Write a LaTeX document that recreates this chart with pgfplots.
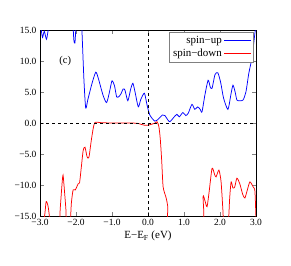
\documentclass[border=0pt]{standalone}
\usepackage{pgfplots}
\pgfplotsset{compat=1.18}
\usepackage{fontspec}
\setmainfont{Liberation Serif}
\begin{document}
\begin{tikzpicture}
\useasboundingbox (-40bp,-50bp) rectangle (251bp,216bp);
\begin{axis}[
  scale only axis, width=216bp, height=186bp,
  xmin=-3, xmax=3, ymin=-15, ymax=15,
  xtick={-3,-2,-1,0,1,2,3},
  xticklabels={−3.0,−2.0,−1.0,0.0,1.0,2.0,3.0},
  ytick={-15,-10,-5,0,5,10,15},
  yticklabels={−15.0,−10.0,−5.0,0.0,5.0,10.0,15.0},
  tick align=inside, major tick length=3.5bp,
  tick label style={font=\fontsize{9.5}{10}\selectfont},
  axis line style={line width=0.9pt},
  xlabel={E−E\textsubscript{F} (eV)},
  xlabel style={font=\fontsize{11}{12}\selectfont, yshift=2bp},
  legend style={at={(rel axis cs:0.99,0.99)}, anchor=north east, draw=gray,
    font=\fontsize{11}{11}\selectfont, inner sep=2pt, row sep=0pt},
  legend cell align=right, legend plot pos=right,
  legend image code/.code={\draw[#1] (0cm,0cm) -- (0.95cm,0cm);},
]
\addlegendimage{color=blue, line width=0.9pt}
\addlegendentry{spin−up}
\addlegendimage{color=red, line width=0.9pt}
\addlegendentry{spin−down}
\addplot[blue, line width=0.75pt, smooth, tension=0.4, forget plot] coordinates {
(-3.0,16)(-2.97,15.2)(-2.93,13.8)(-2.88,14.8)(-2.82,13.5)(-2.76,15.5)(-2.7,18)
(-2.2,18)(-2.1,17)(-2.06,13.4)(-2.03,12.9)(-2.0,15.5)(-1.95,18)(-1.88,18)
(-1.84,15.5)(-1.78,7)(-1.73,2.4)(-1.67,3.8)(-1.55,6.5)(-1.45,8.2)(-1.38,7.2)
(-1.25,4.5)(-1.15,3.3)(-1.07,5.0)(-1.0,6.8)(-0.93,6.0)(-0.87,4.2)(-0.8,4.3)
(-0.75,4.7)(-0.69,5.5)(-0.64,5.3)(-0.56,3.6)(-0.48,5.5)(-0.42,6.4)(-0.36,5.0)
(-0.27,2.6)(-0.2,3.8)(-0.1,4.8)(-0.03,3.0)(0.05,1.3)(0.19,0.3)(0.3,0.7)
(0.4,1.3)(0.47,1.2)(0.55,0.5)(0.61,0.2)(0.7,0.8)(0.8,1.4)(0.87,1.0)(0.97,1.7)
(1.05,1.2)(1.12,1.6)(1.22,3.0)(1.3,2.2)(1.38,2.6)(1.45,2.2)(1.5,1.8)(1.58,4.5)
(1.67,6.9)(1.73,5.8)(1.78,5.6)(1.86,7.8)(1.94,8.1)(2.02,6.5)(2.1,4.0)(2.22,2.2)
(2.3,4.5)(2.36,6.1)(2.42,5.0)(2.47,3.7)(2.55,3.6)(2.64,3.7)(2.72,5.0)(2.8,8.0)
(2.89,10.6)(2.97,14.5)(3.0,15.5)
};
\addplot[red, line width=0.75pt, smooth, tension=0.4, forget plot] coordinates {
(-3.0,-16)(-2.88,-15.2)(-2.83,-12.7)(-2.78,-13.3)(-2.74,-15)(-2.72,-17)
(-2.47,-17)(-2.44,-14)(-2.39,-10)(-2.36,-8.4)(-2.32,-11)(-2.28,-14)(-2.26,-17)
(-2.17,-17)(-2.13,-13)(-2.08,-10.8)(-2.02,-10.8)(-1.94,-9.8)(-1.9,-9.6)
(-1.85,-7)(-1.8,-4.4)(-1.75,-3.9)(-1.69,-5.5)(-1.64,-5.5)(-1.58,-3)(-1.52,-0.8)
(-1.47,0.1)(-1.3,0.05)(-1.0,0.0)(-0.5,0.0)(-0.3,-0.05)(-0.2,-0.2)(-0.1,-0.35)
(0.0,-0.35)(0.1,-0.2)(0.2,0.0)(0.25,0.2)(0.3,-0.5)(0.34,-2.5)(0.38,-6)
(0.42,-10.3)(0.5,-12)(0.55,-13.5)(0.6,-17)(1.5,-17)(1.53,-11.9)(1.58,-12.5)
(1.64,-13.5)(1.7,-11)(1.78,-7.3)(1.85,-8.3)(1.89,-8.7)(1.97,-7.6)(2.03,-9.5)
(2.08,-14)(2.11,-17)(2.22,-17)(2.27,-12)(2.31,-9.5)(2.36,-10.5)(2.41,-10.3)
(2.47,-8.9)(2.55,-9.8)(2.63,-11.5)(2.69,-12.1)(2.75,-11)(2.83,-9.5)(2.92,-10.3)
(2.97,-11)(3.0,-15.5)
};
\addplot[black, line width=0.6pt, dash pattern=on 3bp off 3bp, forget plot] coordinates {(-3,0)(3,0)};
\addplot[black, line width=0.6pt, dash pattern=on 3bp off 3bp, forget plot] coordinates {(0,-15)(0,15)};
\node[font=\fontsize{10.5}{11}\selectfont] at (axis cs:-2.3,10) {(c)};
\end{axis}
\end{tikzpicture}
\end{document}
